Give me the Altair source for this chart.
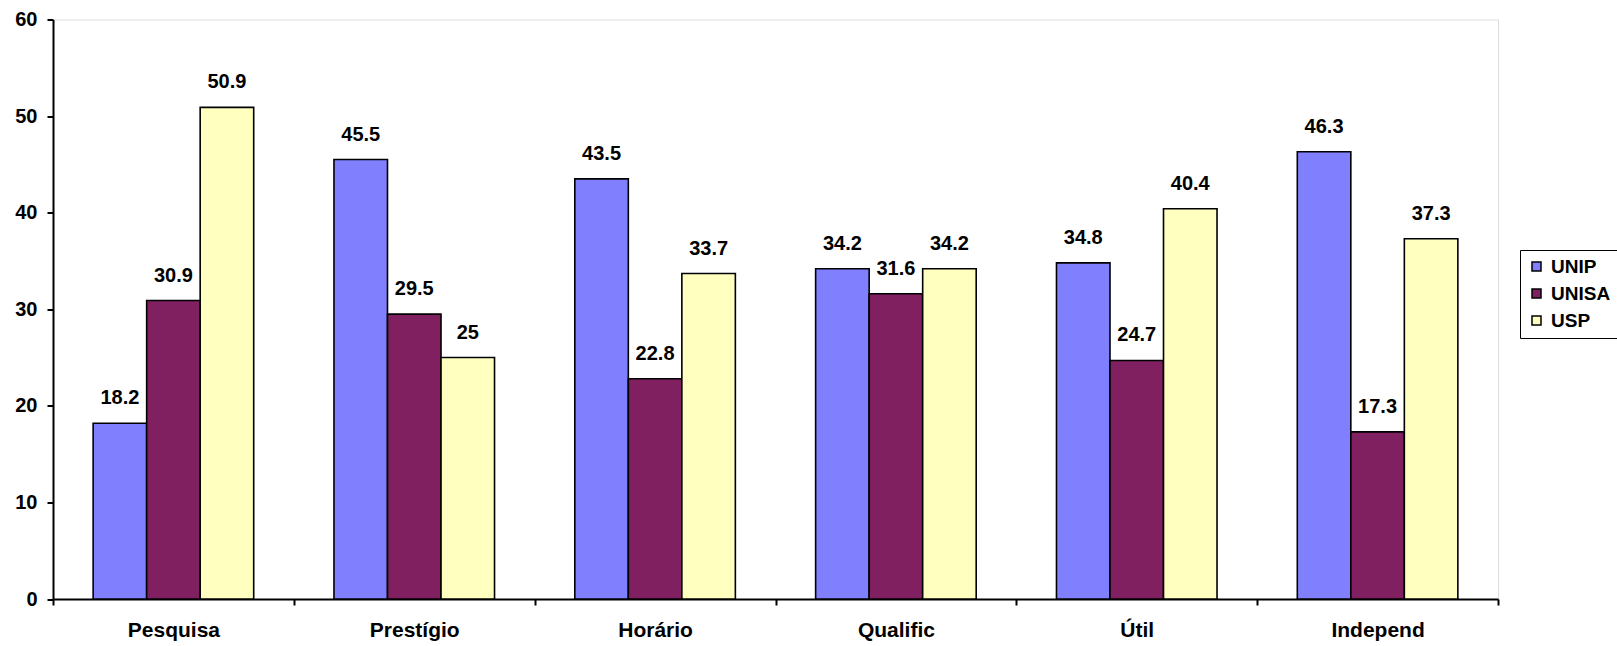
import altair as alt
import pandas as pd

categories = ["Pesquisa", "Prestígio", "Horário", "Qualific", "Útil", "Independ"]
series = ["UNIP", "UNISA", "USP"]
unip = [18.2, 45.5, 43.5, 34.2, 34.8, 46.3]
unisa = [30.9, 29.5, 22.8, 31.6, 24.7, 17.3]
usp = [50.9, 25, 33.7, 34.2, 40.4, 37.3]
colors = ["#8080FF", "#802060", "#FFFFC0"]

rows = []
for s, vals in zip(series, [unip, unisa, usp]):
    for c, v in zip(categories, vals):
        rows.append({"cat": c, "serie": s, "valor": v, "label": f"{v:g}"})
df = pd.DataFrame(rows)

FONT = "Liberation Sans"

x_enc = alt.X("cat:N", sort=categories,
              scale=alt.Scale(paddingInner=0, paddingOuter=0),
              axis=alt.Axis(title=None, labelAngle=0, tickBand="extent",
                            labelFontSize=21, labelFontWeight="bold",
                            labelColor="black", labelPadding=14,
                            tickSize=6, tickColor="black", tickWidth=2,
                            domainColor="black", domainWidth=2,
                            labelFont=FONT))
xo_enc = alt.XOffset("serie:N", sort=series,
                     scale=alt.Scale(paddingOuter=0.75, paddingInner=0))
y_enc = alt.Y("valor:Q", scale=alt.Scale(domain=[0, 60], nice=False),
              axis=alt.Axis(title=None, values=[0, 10, 20, 30, 40, 50, 60],
                            grid=False, labelFontSize=20, labelFontWeight="bold",
                            labelColor="black", labelPadding=10,
                            tickSize=6, tickColor="black", tickWidth=2,
                            domainColor="black", domainWidth=2,
                            labelFont=FONT))

bars = alt.Chart(df).mark_bar(stroke="black", strokeWidth=1.6).encode(
    x=x_enc, xOffset=xo_enc, y=y_enc,
    color=alt.Color("serie:N", sort=series,
                    scale=alt.Scale(domain=series, range=colors),
                    legend=alt.Legend(title=None, orient="none",
                                      legendX=1467, legendY=230.5,
                                      symbolType="square", symbolSize=81,
                                      symbolStrokeColor="black",
                                      symbolStrokeWidth=1.5,
                                      labelFontSize=19, labelFontWeight="bold",
                                      labelColor="black", labelFont=FONT,
                                      labelOffset=5, rowPadding=7,
                                      strokeColor="black", fillColor="white",
                                      padding=7, cornerRadius=0)),
)

texts = alt.Chart(df).mark_text(baseline="alphabetic", dy=-19, fontSize=20,
                                fontWeight="bold", color="black",
                                font=FONT).encode(
    x=alt.X("cat:N", sort=categories), xOffset=alt.XOffset("serie:N", sort=series),
    y="valor:Q", text="label:N",
)

chart = alt.layer(bars, texts).properties(
    width=1445, height=579.5,
    autosize=alt.AutoSizeParams(type="none"),
    padding={"left": 53, "top": 19.5, "right": 119, "bottom": 47},
).configure_view(stroke="#8c8c8c", strokeWidth=2, fill="white").configure(
    background="white", font=FONT
)

chart.save("out.html", embed_options={"renderer": "svg", "actions": False})
